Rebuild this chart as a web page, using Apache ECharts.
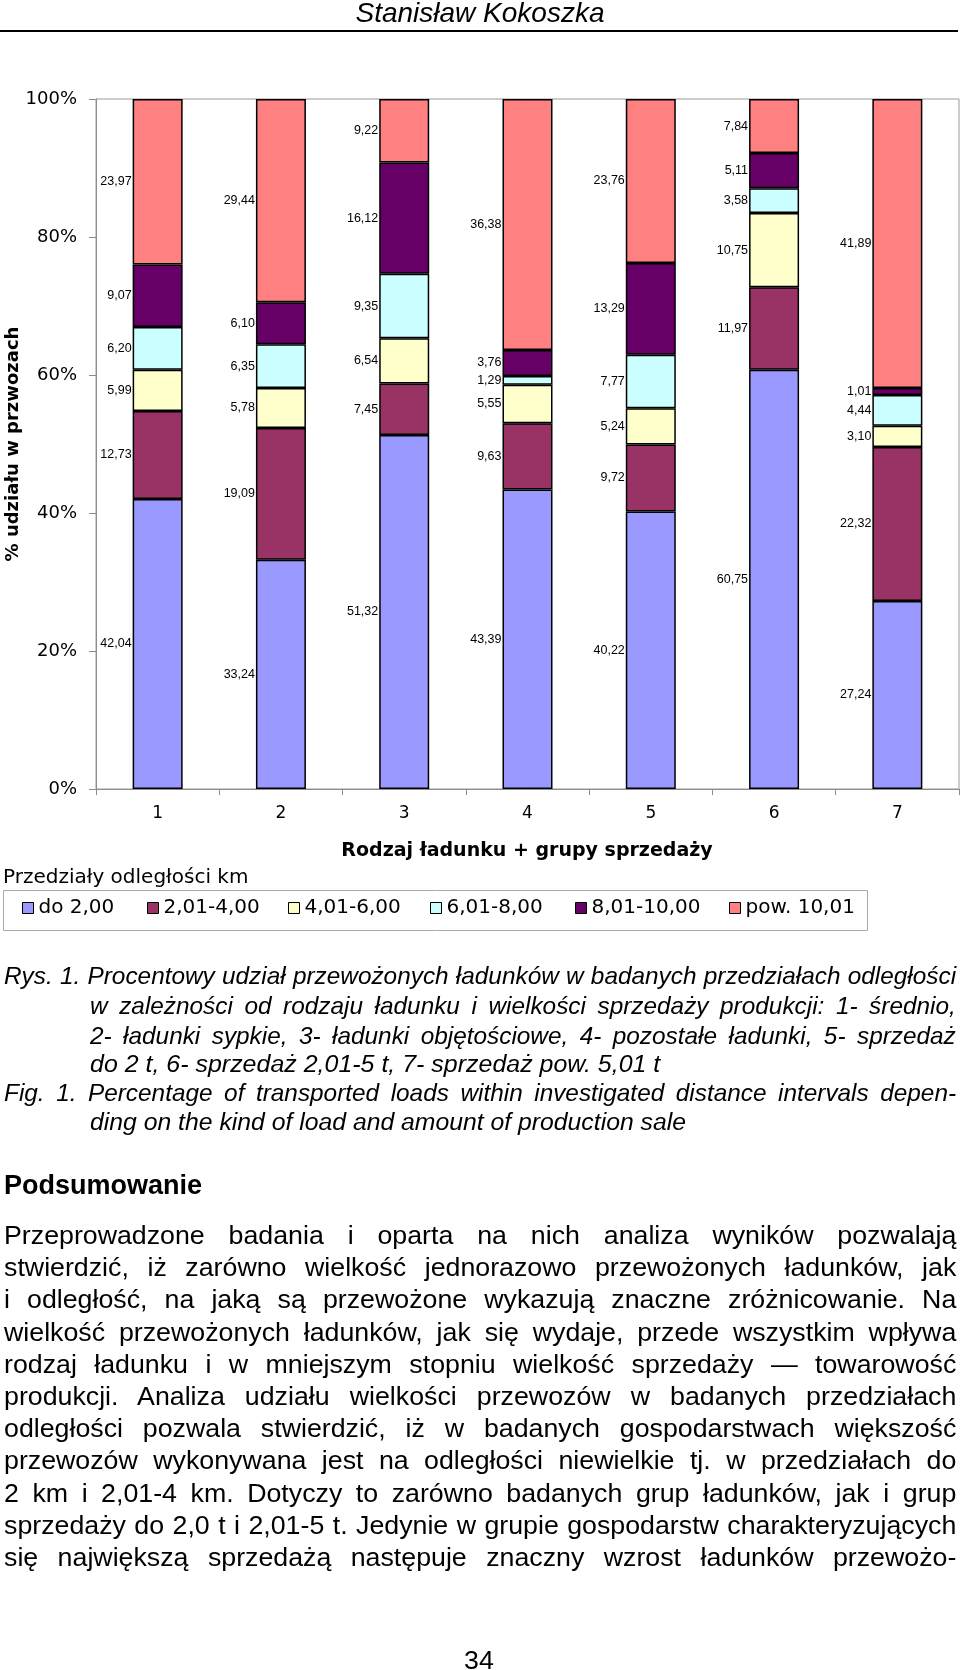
<!DOCTYPE html>
<html>
<head>
<meta charset="utf-8">
<script src="https://cdn.jsdelivr.net/npm/echarts@6/dist/echarts.min.js"></script>
<style>
  html, body { margin: 0; padding: 0; background: #fff; }
  #chart { position: absolute; left: 0; top: 0; width: 960px; height: 1670px; }
  .t { position: absolute; font-family: 'Liberation Sans', Arial, sans-serif; color: #000; white-space: nowrap; transform-origin: 0 0; }
  .cap { font-size: 24px; line-height: 28px; font-style: italic; transform: scaleX(1.015); }
  .body { font-size: 25px; line-height: 28px; transform: scaleX(1.07); }
  .j { text-align: justify; text-align-last: justify; white-space: normal; }
  .capfull { left: 4px; width: 938px; }
  .caphang { left: 90px; width: 853px; }
  .bodyfull { left: 4px; width: 890px; }
</style>
</head>
<body>
<div id="chart"></div>

<div class="t cap j capfull" style="top:962px;">Rys. 1. Procentowy udział przewożonych ładunków w badanych przedziałach odległości</div>
<div class="t cap j caphang" style="top:992px;">w zależności od rodzaju ładunku i wielkości sprzedaży produkcji: 1- średnio,</div>
<div class="t cap j caphang" style="top:1022px;">2- ładunki sypkie, 3- ładunki objętościowe, 4- pozostałe ładunki, 5- sprzedaż</div>
<div class="t cap" style="left:90px;top:1050px;font-size:24.6px;">do 2 t, 6- sprzedaż 2,01-5 t, 7- sprzedaż pow. 5,01 t</div>
<div class="t cap j capfull" style="top:1079px;">Fig. 1. Percentage of transported loads within investigated distance intervals depen-</div>
<div class="t cap" style="left:90px;top:1108px;font-size:24.4px;">ding on the kind of load and amount of production sale</div>

<div class="t" style="left:4px;top:1170px;font-size:27px;line-height:30px;font-weight:bold;">Podsumowanie</div>

<div class="t body j bodyfull" style="top:1221px;">Przeprowadzone badania i oparta na nich analiza wyników pozwalają</div>
<div class="t body j bodyfull" style="top:1253px;">stwierdzić, iż zarówno wielkość jednorazowo przewożonych ładunków, jak</div>
<div class="t body j bodyfull" style="top:1285px;">i odległość, na jaką są przewożone wykazują znaczne zróżnicowanie. Na</div>
<div class="t body j bodyfull" style="top:1318px;">wielkość przewożonych ładunków, jak się wydaje, przede wszystkim wpływa</div>
<div class="t body j bodyfull" style="top:1350px;">rodzaj ładunku i w mniejszym stopniu wielkość sprzedaży — towarowość</div>
<div class="t body j bodyfull" style="top:1382px;">produkcji. Analiza udziału wielkości przewozów w badanych przedziałach</div>
<div class="t body j bodyfull" style="top:1414px;">odległości pozwala stwierdzić, iż w badanych gospodarstwach większość</div>
<div class="t body j bodyfull" style="top:1446px;">przewozów wykonywana jest na odległości niewielkie tj. w przedziałach do</div>
<div class="t body j bodyfull" style="top:1479px;">2 km i 2,01-4 km. Dotyczy to zarówno badanych grup ładunków, jak i grup</div>
<div class="t body j bodyfull" style="top:1511px;">sprzedaży do 2,0 t i 2,01-5 t. Jedynie w grupie gospodarstw charakteryzujących</div>
<div class="t body j bodyfull" style="top:1543px;">się największą sprzedażą następuje znaczny wzrost ładunków przewożo-</div>

<div class="t body" style="left:464px;top:1646px;">34</div>

<script>
// ---- data ----
const categories = ['1', '2', '3', '4', '5', '6', '7'];
const seriesNames = ['do 2,00', '2,01-4,00', '4,01-6,00', '6,01-8,00', '8,01-10,00', 'pow. 10,01'];
const do2_00   = [42.04, 33.24, 51.32, 43.39, 40.22, 60.75, 27.24];
const s2_01_4  = [12.73, 19.09, 7.45, 9.63, 9.72, 11.97, 22.32];
const s4_01_6  = [5.99, 5.78, 6.54, 5.55, 5.24, 10.75, 3.10];
const s6_01_8  = [6.20, 6.35, 9.35, 1.29, 7.77, 3.58, 4.44];
const s8_01_10 = [9.07, 6.10, 16.12, 3.76, 13.29, 5.11, 1.01];
const pow10_01 = [23.97, 29.44, 9.22, 36.38, 23.76, 7.84, 41.89];
const seriesValues = [do2_00, s2_01_4, s4_01_6, s6_01_8, s8_01_10, pow10_01];
const colors = ['#9999FF', '#993366', '#FFFFCC', '#CCFFFF', '#660066', '#FF8080'];
const legendLefts = [22, 147, 288, 430, 575, 729];

const chart = echarts.init(document.getElementById('chart'), null, { renderer: 'canvas' });

const series = seriesNames.map((name, i) => ({
  name: name,
  type: 'bar',
  stack: 'total',
  barWidth: 50,
  data: seriesValues[i],
  itemStyle: { color: colors[i], borderColor: '#000', borderWidth: 1.5 },
  label: {
    show: true,
    position: 'left',
    distance: 1,
    fontFamily: 'Liberation Sans, Arial, sans-serif',
    fontSize: 12.5,
    color: '#000',
    formatter: p => p.value.toFixed(2).replace('.', ',')
  },
  emphasis: { disabled: true }
}));

const legends = seriesNames.map((name, i) => ({
  data: [name],
  left: legendLefts[i],
  top: 898,
  padding: 0,
  itemWidth: 11,
  itemHeight: 11,
  icon: 'rect',
  selectedMode: false,
  itemStyle: { borderColor: '#000', borderWidth: 1 },
  textStyle: { fontFamily: 'DejaVu Sans', fontSize: 20, color: '#000' }
}));

chart.setOption({
  animation: false,
  color: colors,
  grid: {
    left: 96, top: 99, width: 863, height: 690,
    show: true, borderColor: '#9a9a9a', borderWidth: 1, backgroundColor: 'transparent'
  },
  legend: legends,
  xAxis: {
    type: 'category',
    data: categories,
    axisLine: { show: true, lineStyle: { color: '#8c8c8c', width: 1 } },
    axisTick: { show: true, length: 6, lineStyle: { color: '#8c8c8c' } },
    axisLabel: { fontFamily: 'DejaVu Sans', fontSize: 17, color: '#000', margin: 16 },
    splitLine: { show: false }
  },
  yAxis: {
    type: 'value',
    min: 0, max: 100, interval: 20,
    axisLine: { show: true, lineStyle: { color: '#8c8c8c', width: 1 } },
    axisTick: { show: true, length: 7, lineStyle: { color: '#8c8c8c' } },
    axisLabel: { fontFamily: 'DejaVu Sans', fontSize: 18, color: '#000', margin: 19, formatter: '{value}%' },
    splitLine: { show: false }
  },
  graphic: [
    { type: 'text', left: 'center', top: 0,
      style: { text: 'Stanisław Kokoszka', x: 0, y: 0, fill: '#000',
               font: 'italic 28px "Liberation Sans", Arial, sans-serif' } },
    { type: 'line', shape: { x1: 0, y1: 31, x2: 958, y2: 31 },
      style: { stroke: '#000', lineWidth: 2 } },
    { type: 'text', x: 13, y: 444, rotation: Math.PI / 2,
      style: { text: '% udziału w przwozach', fill: '#000', align: 'center', verticalAlign: 'middle',
               font: 'bold 18px "DejaVu Sans"' } },
    { type: 'text', x: 527, y: 851,
      style: { text: 'Rodzaj ładunku + grupy sprzedaży', fill: '#000', align: 'center', verticalAlign: 'middle',
               font: 'bold 19px "DejaVu Sans"' } },
    { type: 'text', x: 3, y: 878,
      style: { text: 'Przedziały odległości km', fill: '#000', align: 'left', verticalAlign: 'middle',
               font: '20px "DejaVu Sans"' } },
    { type: 'rect', shape: { x: 3.5, y: 890.5, width: 864, height: 40 },
      style: { fill: 'none', stroke: '#a8a8a8', lineWidth: 1 }, z: -1 }
  ],
  series: series
});
</script>
</body>
</html>
